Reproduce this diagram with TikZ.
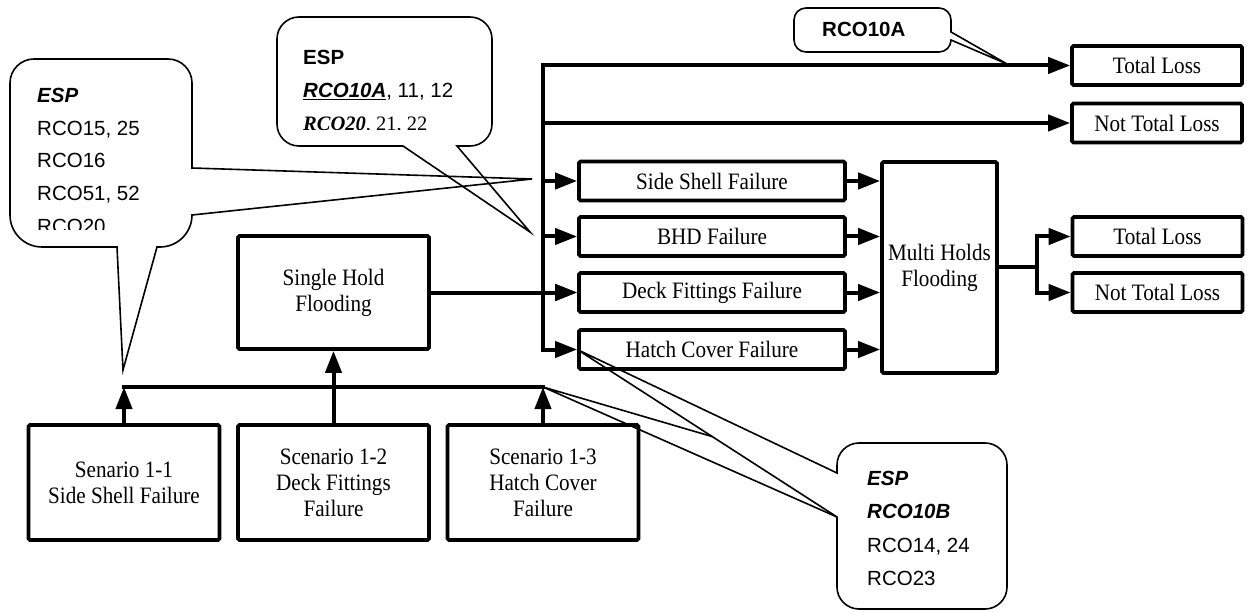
\documentclass[tikz,border=0pt]{standalone}
\usepackage{fontspec}
\setmainfont{Liberation Serif}
\newfontfamily\boxfont[FakeStretch=0.9]{Liberation Serif}
\newfontfamily\callfont{Liberation Sans}
\usetikzlibrary{arrows.meta,calc}

\tikzset{
  box/.style={draw, line width=3.6pt, rounded corners=1.5pt, inner sep=0pt,
    align=center, font=\boxfont\fontsize{23.5}{26}\selectfont},
  failbox/.style={box, minimum width=266pt, minimum height=39pt},
  outbox/.style={box, minimum width=170pt, minimum height=39pt},
  scenbox/.style={box, minimum width=191pt, minimum height=115pt},
  flow/.style={line width=4pt, line cap=rect},
  arr/.style={flow, -{Triangle[length=22pt,width=16pt]}},
  bubble/.style={line width=1.6pt, line join=miter},
  calltext/.style={anchor=base west, inner sep=0pt,
    font=\callfont\fontsize{20.5}{24}\selectfont},
}

\begin{document}
\begin{tikzpicture}[x=1pt,y=-1pt]
\useasboundingbox[fill=white] (0,0) rectangle (1247,612);

% ---------- outcome and failure boxes ----------
\node[outbox] (tl1)  at (1157,65.5) {Total Loss};
\node[outbox] (ntl1) at (1157,123)  {Not Total Loss};
\node[failbox] (ssf) at (712,181)   {Side Shell Failure};
\node[failbox] (bhd) at (712,236.5) {BHD Failure};
\node[failbox] (dff) at (712,292.5) {Deck Fittings Failure};
\node[failbox] (hcf) at (712,349.5) {Hatch Cover Failure};
\node[box, minimum width=115pt, minimum height=211pt] (multi) at (939.5,267.5)
  {Multi Holds\\Flooding};
\node[outbox] (tl2)  at (1157.5,236.5) {Total Loss};
\node[outbox] (ntl2) at (1157.5,292.5) {Not Total Loss};

% ---------- single hold and scenarios ----------
\node[box, minimum width=191pt, minimum height=113pt] (single) at (333.5,292.5)
  {Single Hold\\Flooding};
\node[scenbox] (s11) at (124,482.5)   {Senario 1-1\\Side Shell Failure};
\node[scenbox] (s12) at (333.5,482.5) {Scenario 1-2\\Deck Fittings\\Failure};
\node[scenbox] (s13) at (543,482.5)   {Scenario 1-3\\Hatch Cover\\Failure};

% ---------- trunk feeding the branches ----------
\coordinate (trunk) at (s13.north |- tl1.west);
\draw[flow] (trunk) -- (trunk |- hcf.west);
\foreach \t in {tl1,ntl1,ssf,bhd,dff,hcf}
  \draw[arr] (trunk |- \t.west) -- (\t.west);
\draw[arr] (single.east) -- (dff.west);

% failures into multi-hold flooding
\foreach \t in {ssf,bhd,dff,hcf}
  \draw[arr] (\t.east) -- (\t.east -| multi.west);

% multi-hold flooding outcomes
\coordinate (split) at ($(multi.east)+(38,0)$);
\draw[flow] (multi.east) -- (split);
\draw[flow] (split |- tl2.west) -- (split |- ntl2.west);
\draw[arr] (split |- tl2.west) -- (tl2.west);
\draw[arr] (split |- ntl2.west) -- (ntl2.west);

% scenario bus
\coordinate (bus) at (0,387);
\draw[flow] (s11.north |- bus) -- (s13.north |- bus);
\draw[arr] (s11.north) -- (s11.north |- bus);
\draw[arr] (s13.north) -- (s13.north |- bus);
\draw[arr] (s12.north) -- (single.south);

% ---------- callouts ----------
\coordinate (tipL)  at (532,179);
\coordinate (tipLb) at (123,370);
\coordinate (tipM)  at (530,232);
\coordinate (tipA)  at (1007,64);
\coordinate (busEnd) at (s13.north |- bus);

% left callout
\draw[bubble] (34,59) -- (168,59) arc[start angle=-90,end angle=0,radius=24]
  -- (192,168) -- (tipL) -- (192,215) arc[start angle=0,end angle=90,radius=32]
  -- (157,247) -- (tipLb) -- (117,247) -- (42,247)
  arc[start angle=90,end angle=180,radius=32] -- (10,83)
  arc[start angle=180,end angle=270,radius=24] -- cycle;
\begin{scope}
  \clip (10,59) rectangle (192,230);
  \node[calltext] (lE) at (37,103) {\bfseries\itshape ESP};
  \node[calltext] (l1) at (37,136) {RCO15, 25};
  \node[calltext] (l2) at (37,168) {RCO16};
  \node[calltext] (l3) at (37,201) {RCO51, 52};
  \node[calltext] (l4) at (37,234) {RCO20};
\end{scope}

% upper middle callout
\draw[bubble] (299,17) -- (470,17) arc[start angle=-90,end angle=0,radius=22]
  -- (492,124) arc[start angle=0,end angle=90,radius=22]
  -- (457,146) -- (tipM) -- (403,146) -- (299,146)
  arc[start angle=90,end angle=180,radius=22] -- (277,39)
  arc[start angle=180,end angle=270,radius=22] -- cycle;
\begin{scope}
  \clip (277,17) rectangle (492,129.5);
  \node[calltext] (mE) at (303,65) {\bfseries ESP};
  \node[calltext] (m1) at (303,98)
    {\underline{\bfseries\itshape RCO10A}, 11, 12};
  \node[calltext] (m2) at (303,131)
    {\rmfamily{\bfseries\itshape RCO20}, 21, 22};
\end{scope}

% callout on the total loss branch
\draw[bubble] (806,8) -- (939,8) arc[start angle=-90,end angle=0,radius=12]
  -- (951,32) -- (tipA) -- (951,40) arc[start angle=0,end angle=90,radius=12]
  -- (806,52) arc[start angle=90,end angle=180,radius=12] -- (794,20)
  arc[start angle=180,end angle=270,radius=12] -- cycle;
\node[calltext] (aT) at (822,37) {\bfseries RCO10A};

% lower right callout with two pointers
\coordinate (rbLow) at (837,517);
\draw[bubble] (859,443) -- (985,443) arc[start angle=-90,end angle=0,radius=22]
  -- (1007,587) arc[start angle=0,end angle=90,radius=22]
  -- (859,609) arc[start angle=90,end angle=180,radius=22]
  -- (rbLow) -- (hcf.west) -- (837,473) -- (837,465)
  arc[start angle=180,end angle=270,radius=22] -- cycle;
\draw[bubble] ($(hcf.west)!0.52!(rbLow)$) -- (busEnd) -- (rbLow);
\node[calltext] (rE) at (867,485) {\bfseries\itshape ESP};
\node[calltext] (r1) at (867,518) {\bfseries\itshape RCO10B};
\node[calltext] (r2) at (867,552) {RCO14, 24};
\node[calltext] (r3) at (867,585) {RCO23};
\end{tikzpicture}
\end{document}
